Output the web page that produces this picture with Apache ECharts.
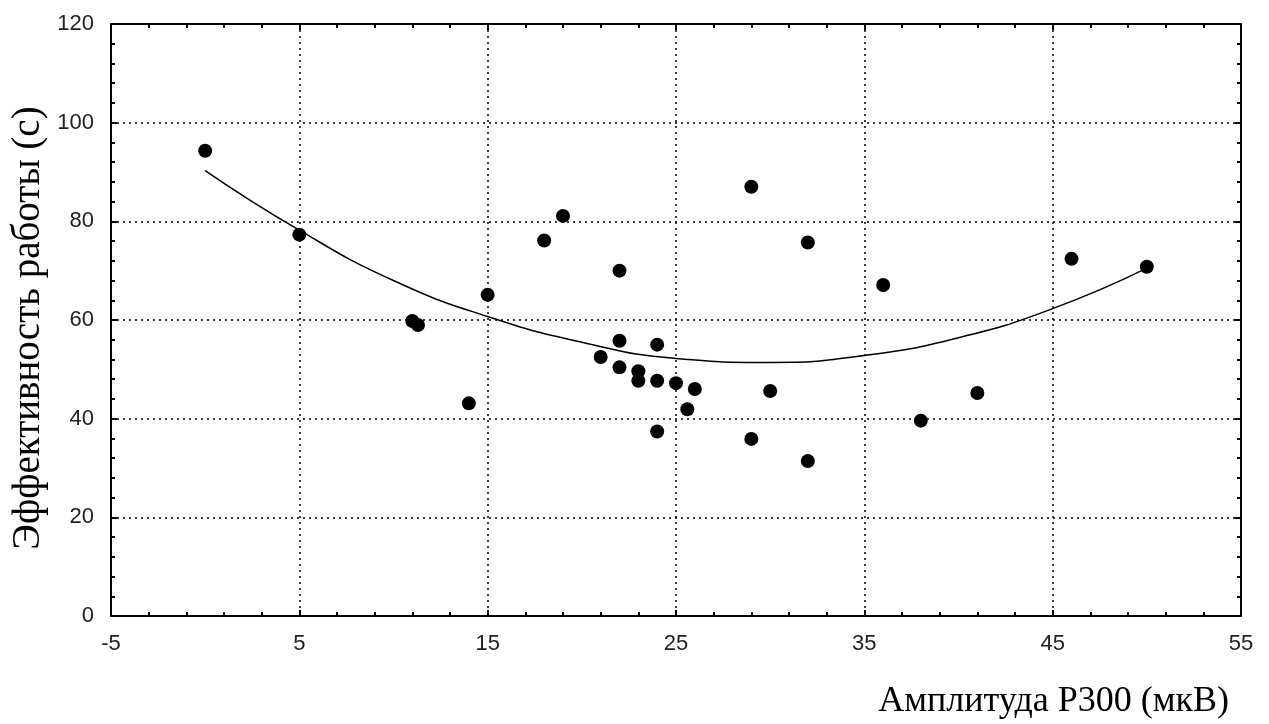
<!DOCTYPE html>
<html>
<head>
<meta charset="utf-8">
<script src="https://cdn.jsdelivr.net/npm/echarts@6/dist/echarts.min.js"></script>
<style>
html,body{margin:0;padding:0;background:#fff;}
#chart{width:1269px;height:724px;}
</style>
</head>
<body>
<div id="chart"></div>
<script>
// Scatter points: amplitude P300 (x) and work efficiency (y)
const pointX = [0, 5, 15, 11, 11.3, 18, 19, 22, 14, 22, 21, 22, 23, 23, 24, 24, 25, 26, 25.6, 24, 29, 32, 30, 29, 32, 36, 38, 41, 46, 50];
const pointY = [94.3, 77.3, 65.1, 59.8, 59.0, 76.1, 81.1, 70.0, 43.1, 55.8, 52.5, 50.4, 49.6, 47.7, 55.0, 47.7, 47.2, 46.0, 41.9, 37.4, 87.0, 75.7, 45.6, 35.9, 31.4, 67.1, 39.6, 45.2, 72.4, 70.8];
// Fitted curve
const curveX = [0, 5, 10, 15, 20, 25, 30, 35, 40, 45, 50];
const curveY = [90.3, 78.2, 68.0, 60.7, 55.5, 52.2, 51.4, 52.8, 56.4, 62.3, 70.5];
// Axis settings
const xMin = -5, xMax = 55, xStep = 10;
const yMin = 0, yMax = 120, yStep = 20;
const xTitle = 'Амплитуда Р300 (мкВ)';
const yTitle = 'Эффективность работы (с)';

const scatterData = pointX.map((x, i) => [x, pointY[i]]);
const curveData = curveX.map((x, i) => [x, curveY[i]]);

const tickFont = {fontFamily: 'Liberation Sans', fontSize: 22, color: '#222'};
const axisLine = {show: true, onZero: false, lineStyle: {color: '#000', width: 2}};
const tick = {show: true, inside: true, length: 6, lineStyle: {color: '#000', width: 2}};
const minor = {show: true, splitNumber: 5, length: 4, lineStyle: {color: '#000', width: 2}};
const dotted = {show: true, lineStyle: {color: '#000', type: [2, 4], width: 1.5}};

const chart = echarts.init(document.getElementById('chart'), null, {renderer: 'canvas'});
chart.setOption({
  animation: false,
  backgroundColor: '#fff',
  grid: {left: 111, right: 28, top: 24, bottom: 108, containLabel: false},
  xAxis: [{
    type: 'value', min: xMin, max: xMax, interval: xStep, position: 'bottom',
    axisLine: axisLine, axisTick: tick, minorTick: minor,
    axisLabel: Object.assign({margin: 17}, tickFont),
    splitLine: dotted
  }, {
    type: 'value', min: xMin, max: xMax, interval: xStep, position: 'top',
    axisLine: axisLine, axisTick: tick, minorTick: minor,
    axisLabel: {show: false}, splitLine: {show: false}
  }],
  yAxis: [{
    type: 'value', min: yMin, max: yMax, interval: yStep, position: 'left',
    axisLine: axisLine, axisTick: tick, minorTick: minor,
    axisLabel: Object.assign({margin: 17}, tickFont),
    splitLine: dotted
  }, {
    type: 'value', min: yMin, max: yMax, interval: yStep, position: 'right',
    axisLine: axisLine, axisTick: tick, minorTick: minor,
    axisLabel: {show: false}, splitLine: {show: false}
  }],
  graphic: [{
    type: 'text', x: 29, y: 328, rotation: Math.PI / 2,
    style: {text: yTitle, font: '39px "Liberation Serif"', fill: '#000', align: 'center', verticalAlign: 'middle'}
  }, {
    type: 'text', right: 40, top: 684,
    style: {text: xTitle, font: '36px "Liberation Serif"', fill: '#000'}
  }],
  series: [{
    type: 'line', data: curveData, smooth: true, symbol: 'none',
    lineStyle: {color: '#000', width: 1.5}, z: 2
  }, {
    type: 'scatter', data: scatterData, symbol: 'circle', symbolSize: 14,
    itemStyle: {color: '#000', opacity: 1}, z: 3
  }]
});
</script>
</body>
</html>
